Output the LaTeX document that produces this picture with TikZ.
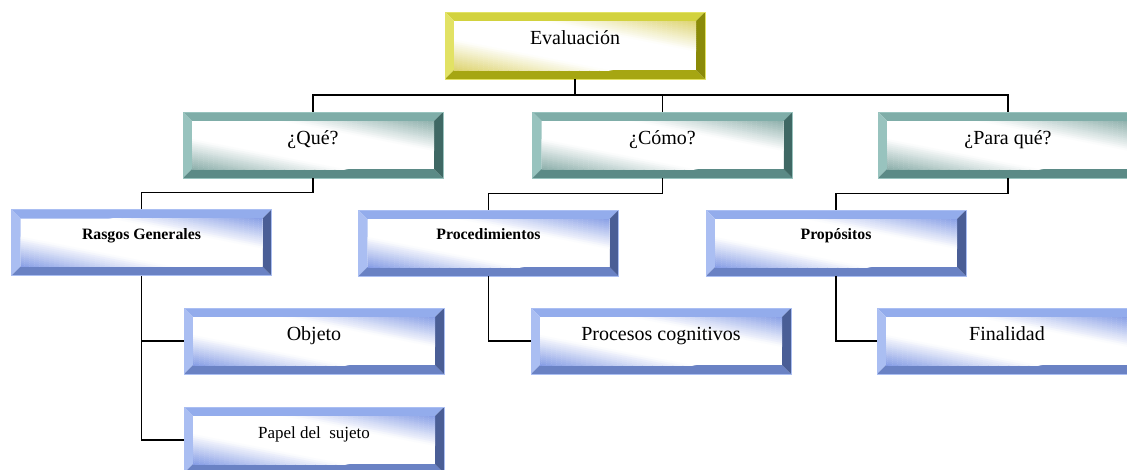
\documentclass[tikz,border=0pt]{standalone}
\usepackage{fontspec}
\setmainfont{Liberation Serif}
\usetikzlibrary{calc}

% bevel palettes: top, left, bottom, right, inner tint
\definecolor{yTop}{HTML}{D2D23E}
\definecolor{yLeft}{HTML}{E2E264}
\definecolor{yBot}{HTML}{A6A612}
\definecolor{yRight}{HTML}{8A8A08}
\definecolor{yTint}{HTML}{DCD26A}
\definecolor{tTop}{HTML}{7FADA8}
\definecolor{tLeft}{HTML}{98C3BE}
\definecolor{tBot}{HTML}{5B8A86}
\definecolor{tRight}{HTML}{3F6864}
\definecolor{tTint}{HTML}{86AAA6}
\definecolor{bTop}{HTML}{93ACEC}
\definecolor{bLeft}{HTML}{AABEF2}
\definecolor{bBot}{HTML}{6A82C4}
\definecolor{bRight}{HTML}{4A5E96}
\definecolor{bTint}{HTML}{8098E4}

\tikzset{
  bevbox/.style n args={5}{
    draw=#2, line width=0.6pt, inner sep=0pt, minimum width=260pt, minimum height=66pt,
    path picture={
      \coordinate (NW) at (path picture bounding box.north west);
      \coordinate (NE) at (path picture bounding box.north east);
      \coordinate (SW) at (path picture bounding box.south west);
      \coordinate (SE) at (path picture bounding box.south east);
      \coordinate (CC) at (path picture bounding box.center);
      \coordinate (iNW) at ($(NW)+(9pt,-9pt)$);
      \coordinate (iNE) at ($(NE)+(-9pt,-9pt)$);
      \coordinate (iSW) at ($(SW)+(9pt,9pt)$);
      \coordinate (iSE) at ($(SE)+(-9pt,9pt)$);
      \fill[#1] (NW) -- (NE) -- (iNE) -- (iNW) -- cycle;
      \fill[#2] (NW) -- (iNW) -- (iSW) -- (SW) -- cycle;
      \fill[#3] (SW) -- (iSW) -- (iSE) -- (SE) -- cycle;
      \fill[#4] (NE) -- (SE) -- (iSE) -- (iNE) -- cycle;
      % face: white band along the falling diagonal, tint growing towards
      % the upper right and lower left corners (built from slanted strips)
      \begin{scope}
        \clip (iNW) rectangle (iSE);
        \fill[white] (iNW) rectangle (iSE);
        \foreach \i [evaluate=\i as \p using {int(round((\i+0.5)*100/16))},
                     evaluate=\i as \ua using {18+2*\i+24.75},
                     evaluate=\i as \ub using {18+2*\i-24.75},
                     evaluate=\i as \va using {20.3+2*\i+24.75},
                     evaluate=\i as \vb using {20.3+2*\i-24.75},
                     evaluate=\i as \na using {-(18+2*\i+24.75)},
                     evaluate=\i as \nb using {-(18+2*\i-24.75)},
                     evaluate=\i as \ma using {-(20.3+2*\i+24.75)},
                     evaluate=\i as \mb using {-(20.3+2*\i-24.75)}] in {0,...,15} {
          \fill[#5!\p!white] ($(CC)+(-125pt,\ua pt)$) -- ($(CC)+(125pt,\ub pt)$)
            -- ($(CC)+(125pt,\vb pt)$) -- ($(CC)+(-125pt,\va pt)$) -- cycle;
          \fill[#5!\p!white] ($(CC)+(125pt,\na pt)$) -- ($(CC)+(-125pt,\nb pt)$)
            -- ($(CC)+(-125pt,\mb pt)$) -- ($(CC)+(125pt,\ma pt)$) -- cycle;
        }
        \fill[#5] ($(CC)+(-125pt,74.75pt)$) -- ($(CC)+(125pt,25.25pt)$)
          -- ($(CC)+(125pt,90pt)$) -- ($(CC)+(-125pt,120pt)$) -- cycle;
        \fill[#5] ($(CC)+(125pt,-74.75pt)$) -- ($(CC)+(-125pt,-25.25pt)$)
          -- ($(CC)+(-125pt,-90pt)$) -- ($(CC)+(125pt,-120pt)$) -- cycle;
      \end{scope}
    }},
  yellowbox/.style={bevbox={yTop}{yLeft}{yBot}{yRight}{yTint}},
  tealbox/.style={bevbox={tTop}{tLeft}{tBot}{tRight}{tTint}},
  bluebox/.style={bevbox={bTop}{bLeft}{bBot}{bRight}{bTint}},
  plain/.style={font=\fontsize{20}{24}\selectfont, text height=14pt, text depth=16pt},
  small/.style={font=\fontsize{17}{20}\selectfont, text height=12pt, text depth=16pt},
  heavy/.style={font=\bfseries\fontsize{15.8}{19}\selectfont, text height=11pt, text depth=18pt},
  link/.style={line width=1.6pt, black}
}

\begin{document}
\begin{tikzpicture}[x=1pt, y=-1pt]
  \useasboundingbox (0,0) rectangle (1127,469);
  \clip (0,0) rectangle (1127,469);

  % top level
  \node[yellowbox, plain, minimum height=67pt] (eval) at (575,45.5) {Evaluación};

  % questions
  \node[tealbox, plain] (que)  at (313,145) {¿Qué?};
  \node[tealbox, plain] (como) at (662.5,145) {¿Cómo?};
  \node[tealbox, plain] (para) at (1008,145) {¿Para qué?};

  % headings
  \node[bluebox, heavy] (rasgos) at (141.5,242.5) {Rasgos Generales};
  \node[bluebox, heavy] (proced) at (488.5,243) {Procedimientos};
  \node[bluebox, heavy] (propos) at (836,243) {Propósitos};

  % leaves
  \node[bluebox, plain] (objeto)   at (314,341) {Objeto};
  \node[bluebox, small] (papel)    at (314,440) {Papel del\ \ sujeto};
  \node[bluebox, plain] (procesos) at (661,341) {Procesos cognitivos};
  \node[bluebox, plain] (final)    at (1007,341) {Finalidad};

  % connectors
  \coordinate (bus) at (575,95);
  \draw[link] (eval.south) -- (bus);
  \draw[link] (que.north) |- (bus) -| (para.north);
  \draw[link] (como.north) -- (como.north |- bus);

  \draw[link] (que.south) -- ++(0,14) -| (rasgos.north);
  \draw[link] (como.south) -- ++(0,15) -| (proced.north);
  \draw[link] (para.south) -- ++(0,15) -| (propos.north);

  \draw[link] (rasgos.south) |- (papel.west);
  \draw[link] (objeto.west) -- (objeto.west -| rasgos.south);
  \draw[link] (proced.south) |- (procesos.west);
  \draw[link] (propos.south) |- (final.west);
\end{tikzpicture}
\end{document}
